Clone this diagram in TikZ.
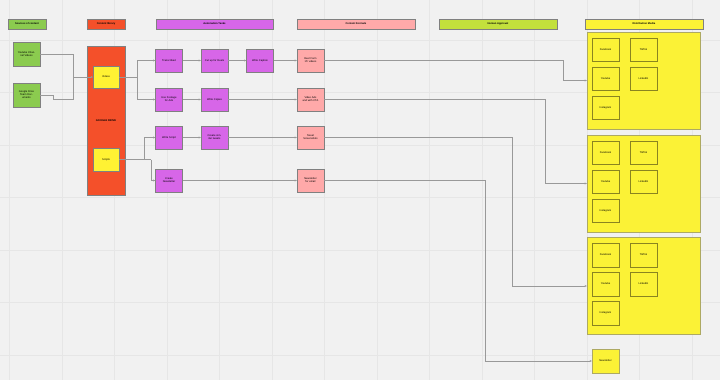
\documentclass[tikz,border=0pt]{standalone}
\usepackage{fontspec}
\setmainfont{Liberation Sans}
\usetikzlibrary{arrows.meta}
\definecolor{bgc}{HTML}{F1F1F1}
\definecolor{gridc}{HTML}{E6E6E6}
\definecolor{srcg}{HTML}{8BCB4F}
\definecolor{libr}{HTML}{F4502A}
\definecolor{ylw}{HTML}{FFF233}
\definecolor{purp}{HTML}{D766E8}
\definecolor{pink}{HTML}{FFA9A9}
\definecolor{lime}{HTML}{C3E03C}
\definecolor{dist}{HTML}{FBF236}
\definecolor{linec}{HTML}{999999}
\definecolor{olive}{HTML}{8A8420}
\tikzset{
  base/.style={draw=black!50, line width=0.35pt, inner sep=0.5pt, align=center, font=\fontsize{2.6}{3}\selectfont},
  hdr/.style={base, minimum height=10pt, font=\fontsize{2.6}{3}\selectfont\bfseries},
  tbox/.style={base, minimum width=27pt, minimum height=23.5pt, text width=20pt},
  conn/.style={draw=linec, line width=0.6pt, -{Stealth[length=2.2pt,width=2pt]}},
  cline/.style={draw=linec, line width=0.6pt},
}
\begin{document}
\begin{tikzpicture}[x=1pt,y=-1pt]
\fill[bgc] (0,0) rectangle (720,380);
\useasboundingbox (0,0) rectangle (720,380);
\foreach \gx in {9.5,62,114.5,167,219.5,272,324.5,377,429.5,482,534.5,587,639.5,692}
  \draw[gridc, line width=0.4pt] (\gx,0) -- (\gx,380);
\foreach \gy in {40,92.5,145,197.5,250,302.5,355}
  \draw[gridc, line width=0.4pt] (0,\gy) -- (720,\gy);

% headers
\node[hdr, fill=srcg, minimum width=38pt] (hsrc) at (27,24) {Sources of content};
\node[hdr, fill=libr, minimum width=38pt] (hlib) at (106,24) {Content library};
\node[hdr, fill=purp, minimum width=117pt] (hauto) at (214.5,24) {Automation Tasks};
\node[hdr, fill=pink, minimum width=118pt] (hfmt) at (356,24) {Content Formats};
\node[hdr, fill=lime, minimum width=118pt] (happ) at (498,24) {Human Approval};
\node[hdr, fill=dist, minimum width=118pt] (hdist) at (644,24) {Distribution Media};

% sources
\node[tbox, fill=srcg] (yt) at (26.5,54) {Youtube Channel Videos};
\node[tbox, fill=srcg] (gd) at (26.5,95) {Google Drive Team Documents};

% library
\node[base, fill=libr, minimum width=38pt, minimum height=149pt] (lib) at (106,120.5) {};
\node[font=\fontsize{2.6}{3}\selectfont\bfseries] (gdl) at (106,121) {GOOGLE DRIVE};
\node[tbox, fill=ylw, minimum width=26pt, minimum height=22pt] (vid) at (106,77) {Videos};
\node[tbox, fill=ylw, minimum width=26pt, minimum height=23pt] (scr) at (106,159.5) {Scripts};

% automation
\node[tbox, fill=purp] (a1) at (169,60.5) {Transcribed};
\node[tbox, fill=purp] (a2) at (214.5,60.5) {Cut up for Reels};
\node[tbox, fill=purp] (a3) at (260,60.5) {Write Caption};
\node[tbox, fill=purp] (b1) at (169,99.5) {Use Footage for Ads};
\node[tbox, fill=purp] (b2) at (214.5,99.5) {Write Copies};
\node[tbox, fill=purp] (c1) at (169,137.5) {Write Script};
\node[tbox, fill=purp] (c2) at (214.5,137.5) {Create similar tweets};
\node[tbox, fill=purp] (d1) at (169,180.5) {Create Newsletter};

% formats
\node[tbox, fill=pink] (f1) at (310.5,60.5) {Reel Form 15' videos};
\node[tbox, fill=pink] (f2) at (310.5,99.5) {Video Ads and with CTA};
\node[tbox, fill=pink] (f3) at (310.5,137.5) {Tweet Screenshots};
\node[tbox, fill=pink] (f4) at (310.5,180.5) {Newsletter for email};

% distribution containers
\foreach \n/\cy in {m1/80.5, m2/183.5, m3/286}{
  \node[base, fill=dist, draw=olive!70, minimum width=113pt, minimum height=97pt] (\n) at (643.5,\cy) {};
  \node[tbox, fill=dist, draw=olive] (\n fb) at (605.5,\cy-31) {Facebook};
  \node[tbox, fill=dist, draw=olive] (\n tt) at (643.5,\cy-31) {TikTok};
  \node[tbox, fill=dist, draw=olive] (\n yt) at (605.5,\cy-2) {Youtube};
  \node[tbox, fill=dist, draw=olive] (\n li) at (643.5,\cy-2) {LinkedIn};
  \node[tbox, fill=dist, draw=olive] (\n ig) at (605.5,\cy+27) {Instagram};
}
\node[tbox, fill=dist, draw=olive!70] (nl) at (605.5,361) {Newsletter};

% connectors: sources -> library
\coordinate (j1) at (73,77);
\draw[cline] (yt.east) -| (j1);
\draw[cline] (gd.east) -| (53,99) -| (j1);
\draw[conn] (j1) -- (vid.west);

% library -> automation
\coordinate (j2) at (137,77);
\draw[cline] (vid.east) -- (j2);
\draw[conn] (j2) |- (a1.west);
\draw[conn] (j2) |- (b1.west);
\coordinate (j3) at (144,159.5);
\coordinate (j4) at (151,159.5);
\draw[cline] (scr.east) -- (j4);
\draw[conn] (j3) |- (c1.west);
\draw[conn] (j4) |- (d1.west);

% automation chains
\draw[conn] (a1) -- (a2);
\draw[conn] (a2) -- (a3);
\draw[conn] (a3) -- (f1);
\draw[conn] (b1) -- (b2);
\draw[conn] (b2) -- (f2);
\draw[conn] (c1) -- (c2);
\draw[conn] (c2) -- (f3);
\draw[conn] (d1) -- (f4);

% formats -> distribution
\draw[conn] (f1.east) -| ([xshift=-24pt]m1.west) -- (m1.west);
\draw[conn] (f2.east) -| ([xshift=-42pt]m2.west) -- (m2.west);
\draw[conn] (f3.east) -| ([xshift=-75pt]m3.west) -- (m3.west);
\draw[conn] (f4.east) -| ([xshift=-107pt]nl.west) -- (nl.west);
\end{tikzpicture}
\end{document}
